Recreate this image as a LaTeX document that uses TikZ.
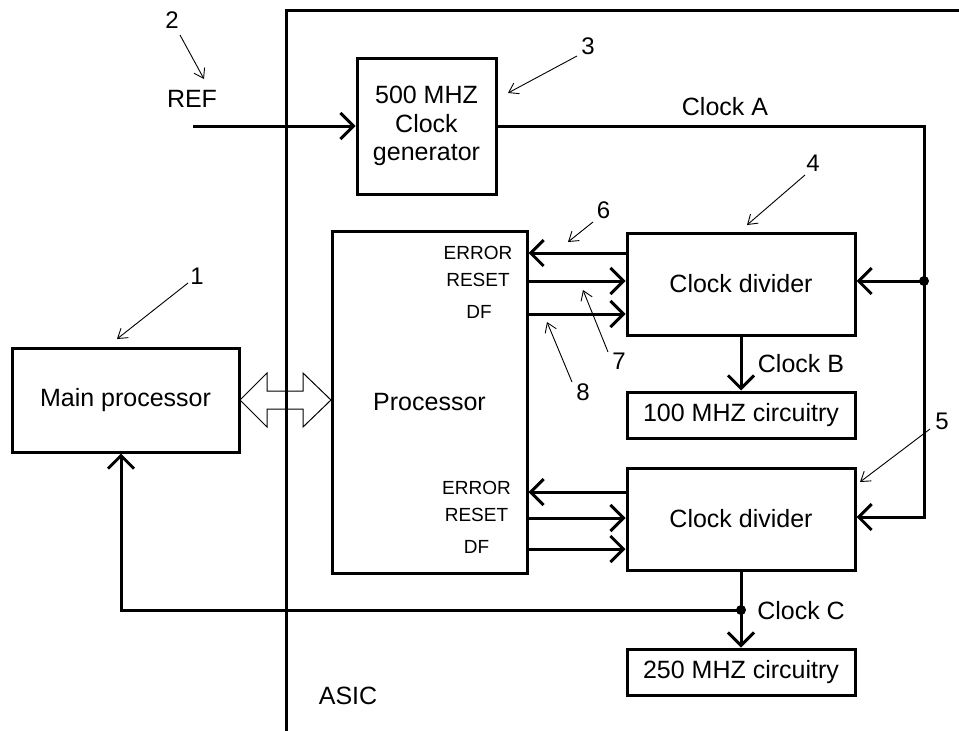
\documentclass[tikz,border=0pt]{standalone}
\usepackage{fontspec}
\setmainfont{Liberation Sans}
\usetikzlibrary{arrows.meta}
\begin{document}
\begin{tikzpicture}[x=1pt,y=-1pt,
  box/.style={draw,line width=3pt,inner sep=0pt,font=\fontsize{25}{28.5}\selectfont,align=center},
  lbl/.style={inner sep=0pt,font=\fontsize{25}{28.5}\selectfont,text height=18pt,text depth=0pt},
  sig/.style={inner sep=0pt,font=\fontsize{19}{22}\selectfont,text height=13.6pt,text depth=0pt},
  num/.style={inner sep=0pt,font=\fontsize{24}{28}\selectfont,text height=17pt,text depth=0pt},
  wire/.style={line width=3pt},
  arr/.style={wire,-{Straight Barb[length=13pt,width=26pt]}},
  ptr/.style={line width=0.9pt,-{Straight Barb[length=9pt,width=12pt]}},
]
\useasboundingbox (0,0) rectangle (959,731);

% ASIC boundary
\coordinate (asicbl) at (286,731);
\coordinate (asictl) at (286,10);
\coordinate (asictr) at (959,10);
\draw[wire] (asicbl) -- (asictl) -- (asictr);
\node[lbl] (asic) at (348,695) {ASIC};

% boxes
\node[box,minimum width=139pt,minimum height=136pt] (gen) at (426.5,126) {500 MHZ\\Clock\\generator};
\node[box,minimum width=195pt,minimum height=342pt] (proc) at (429.5,402) {Processor};
\node[box,minimum width=228pt,minimum height=102pt] (div1) at (741,284) {Clock divider};
\node[box,minimum width=228pt,minimum height=102pt] (div2) at (741,519) {Clock divider};
\node[box,minimum width=228pt,minimum height=46pt] (c100) at (741,415) {100 MHZ circuitry};
\node[box,minimum width=228pt,minimum height=46pt] (c250) at (741,672) {250 MHZ circuitry};
\node[box,minimum width=227pt,minimum height=104pt] (main) at (125.5,400) {Main processor};

% signal labels
\node[sig] (err1) at (478,253) {ERROR};
\node[sig] (rst1) at (478,280) {RESET};
\node[sig] (df1) at (479,312) {DF};
\node[sig] (err2) at (476.5,488) {ERROR};
\node[sig] (rst2) at (476.5,515) {RESET};
\node[sig] (df2) at (476.5,547) {DF};

% REF input
\node[lbl] (ref) at (192,98) {REF};
\coordinate (refin) at (193,126);
\draw[arr] (refin) -- (gen.west |- refin);

% Clock A distribution
\node[lbl] (clka) at (725,106) {Clock A};
\coordinate (ca) at (924,126);
\coordinate (dot1) at (924,281);
\coordinate (ca2) at (924,517);
\draw[arr] (gen.east |- ca) -- (ca) -- (ca2) -- (div2.east |- ca2);
\draw[arr] (dot1) -- (div1.east |- dot1);
\fill (dot1) circle (5);

% processor <-> divider 1
\coordinate (e1) at (0,253);
\coordinate (r1) at (0,281);
\coordinate (d1) at (0,314);
\draw[arr] (div1.west |- e1) -- (proc.east |- e1);
\draw[arr] (proc.east |- r1) -- (div1.west |- r1);
\draw[arr] (proc.east |- d1) -- (div1.west |- d1);

% processor <-> divider 2
\coordinate (e2) at (0,492);
\coordinate (r2) at (0,518);
\coordinate (d2) at (0,549);
\draw[arr] (div2.west |- e2) -- (proc.east |- e2);
\draw[arr] (proc.east |- r2) -- (div2.west |- r2);
\draw[arr] (proc.east |- d2) -- (div2.west |- d2);

% Clock B
\draw[arr] (div1.south) -- (c100.north);
\node[lbl] (clkb) at (801,363) {Clock B};

% Clock C
\coordinate (dot2) at (741,610);
\coordinate (fb) at (121,610);
\draw[arr] (div2.south) -- (c250.north);
\draw[arr] (dot2) -- (fb) -- (fb |- main.south);
\fill (dot2) circle (5);
\node[lbl] (clkc) at (801,610) {Clock C};

% bus double arrow
\draw[line width=1pt] (240,400) -- (267,373) -- (267,391) -- (303,391) -- (303,373)
  -- (331,400) -- (303,427) -- (303,409) -- (267,409) -- (267,427) -- cycle;

% reference numerals
\node[num] (n1) at (197,276) {1};
\coordinate (p1a) at (188,283); \coordinate (p1b) at (117,339);
\draw[ptr] (p1a) -- (p1b);
\node[num] (n2) at (172,20) {2};
\coordinate (p2a) at (180,35); \coordinate (p2b) at (204,79);
\draw[ptr] (p2a) -- (p2b);
\node[num] (n3) at (588,46) {3};
\coordinate (p3a) at (577,56); \coordinate (p3b) at (508,93);
\draw[ptr] (p3a) -- (p3b);
\node[num] (n4) at (813,163) {4};
\coordinate (p4a) at (805,175); \coordinate (p4b) at (747,225);
\draw[ptr] (p4a) -- (p4b);
\node[num] (n5) at (942,421) {5};
\coordinate (p5a) at (930,429); \coordinate (p5b) at (860,482);
\draw[ptr] (p5a) -- (p5b);
\node[num] (n6) at (603.5,210) {6};
\coordinate (p6a) at (593,222); \coordinate (p6b) at (568,242);
\draw[ptr] (p6a) -- (p6b);
\node[num] (n7) at (619,361) {7};
\coordinate (p7a) at (608,352); \coordinate (p7b) at (583,290);
\draw[ptr] (p7a) -- (p7b);
\node[num] (n8) at (583,392) {8};
\coordinate (p8a) at (572,382); \coordinate (p8b) at (547,322);
\draw[ptr] (p8a) -- (p8b);
\end{tikzpicture}
\end{document}
